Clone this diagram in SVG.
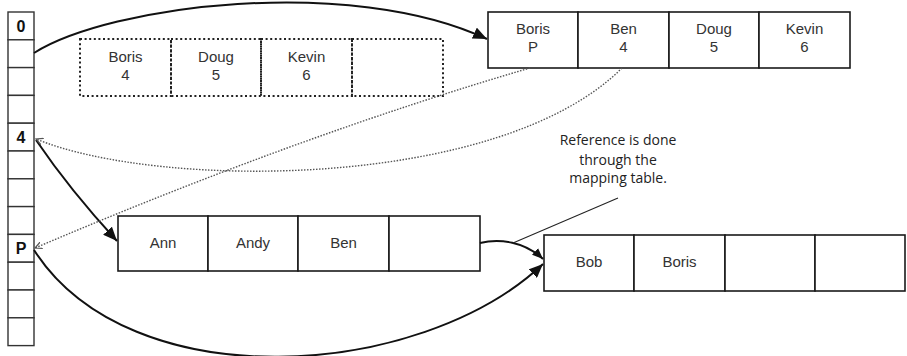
<svg xmlns="http://www.w3.org/2000/svg" width="907" height="356" viewBox="0 0 907 356">
<style>
.cell{fill:#fff;stroke:#1a1a1a;stroke-width:1.6}
.dcell{fill:none;stroke:#222;stroke-width:2;stroke-dasharray:2 2.6}
.col{fill:#fff;stroke:#333;stroke-width:1.4}
.t{font-family:"Liberation Sans",Arial,sans-serif;font-size:15px;fill:#333;text-anchor:middle}
.idx{font-family:"Liberation Sans",sans-serif;font-size:16px;font-weight:bold;fill:#111;text-anchor:middle}
.note{font-family:"Open Sans","Liberation Sans",sans-serif;font-size:14px;fill:#222;text-anchor:middle}
.solid{fill:none;stroke:#111;stroke-width:2}
.dot{fill:none;stroke:#555;stroke-width:1.4;stroke-dasharray:1.5 1.5}
</style>
<defs>
<marker id="ah" markerUnits="userSpaceOnUse" markerWidth="16" markerHeight="12" refX="14" refY="6" orient="auto">
<path d="M0,0 L14,6 L0,12 Z" fill="#111"/>
</marker>
<marker id="ahs" markerUnits="userSpaceOnUse" markerWidth="12" markerHeight="10" refX="11" refY="5" orient="auto">
<path d="M0,0.5 L11,5 L0,9.5 Z" fill="#111"/>
</marker>
<marker id="oh" markerUnits="userSpaceOnUse" markerWidth="8" markerHeight="8" refX="7" refY="4" orient="auto">
<path d="M0,0.5 L7,4 L0,7.5" fill="none" stroke="#555" stroke-width="1.2"/>
</marker>
</defs>

<g id="mapping-table">
<rect class="col" x="8" y="12" width="26" height="27.8"/>
<rect class="col" x="8" y="39.8" width="26" height="27.8"/>
<rect class="col" x="8" y="67.6" width="26" height="27.8"/>
<rect class="col" x="8" y="95.4" width="26" height="27.8"/>
<rect class="col" x="8" y="123.2" width="26" height="27.8"/>
<rect class="col" x="8" y="151" width="26" height="27.8"/>
<rect class="col" x="8" y="178.8" width="26" height="27.8"/>
<rect class="col" x="8" y="206.6" width="26" height="27.8"/>
<rect class="col" x="8" y="234.4" width="26" height="27.8"/>
<rect class="col" x="8" y="262.2" width="26" height="27.8"/>
<rect class="col" x="8" y="290" width="26" height="27.8"/>
<rect class="col" x="8" y="317.8" width="26" height="27.8"/>
<text class="idx" x="21" y="32">0</text>
<text class="idx" x="21" y="143">4</text>
<text class="idx" x="21" y="254">P</text>
</g>

<g id="old-page">
<rect class="dcell" x="80" y="39" width="91" height="57"/>
<rect class="dcell" x="171" y="39" width="90" height="57"/>
<rect class="dcell" x="261" y="39" width="91" height="57"/>
<rect class="dcell" x="352" y="39" width="91" height="57"/>
<text class="t" x="125.5" y="62">Boris</text>
<text class="t" x="125.5" y="80">4</text>
<text class="t" x="216" y="62">Doug</text>
<text class="t" x="216" y="80">5</text>
<text class="t" x="306.5" y="62">Kevin</text>
<text class="t" x="306.5" y="80">6</text>
</g>

<g id="new-page">
<rect class="cell" x="488" y="12" width="90" height="56"/>
<rect class="cell" x="578" y="12" width="91" height="56"/>
<rect class="cell" x="669" y="12" width="90" height="56"/>
<rect class="cell" x="759" y="12" width="91" height="56"/>
<text class="t" x="533" y="34">Boris</text>
<text class="t" x="533" y="52">P</text>
<text class="t" x="623.5" y="34">Ben</text>
<text class="t" x="623.5" y="52">4</text>
<text class="t" x="714" y="34">Doug</text>
<text class="t" x="714" y="52">5</text>
<text class="t" x="804.5" y="34">Kevin</text>
<text class="t" x="804.5" y="52">6</text>
</g>

<g id="page-ann">
<rect class="cell" x="118" y="216" width="90" height="55"/>
<rect class="cell" x="208" y="216" width="90" height="55"/>
<rect class="cell" x="298" y="216" width="91" height="55"/>
<rect class="cell" x="389" y="216" width="91" height="55"/>
<text class="t" x="163" y="248">Ann</text>
<text class="t" x="253" y="248">Andy</text>
<text class="t" x="343.5" y="248">Ben</text>
</g>

<g id="page-bob">
<rect class="cell" x="544" y="235" width="90" height="56"/>
<rect class="cell" x="634" y="235" width="91" height="56"/>
<rect class="cell" x="725" y="235" width="90" height="56"/>
<rect class="cell" x="815" y="235" width="90" height="56"/>
<text class="t" x="589" y="267">Bob</text>
<text class="t" x="679.5" y="267">Boris</text>
</g>

<g id="note">
<text class="note" x="618" y="145">Reference is done</text>
<text class="note" x="618" y="165">through the</text>
<text class="note" x="618" y="183">mapping table.</text>
</g>

<g id="connectors">
<path class="solid" d="M34,53 C110,5 350,-25 487,39" marker-end="url(#ah)"/>
<path class="solid" d="M36,140 Q70,190 117,241" marker-end="url(#ah)"/>
<path class="solid" d="M34,250 C130,400 420,380 543,264" marker-end="url(#ah)"/>
<path class="solid" stroke-width="1.4" d="M480,243 C500,238 525,242 543,259" marker-end="url(#ahs)"/>
<path fill="none" stroke="#222" stroke-width="1.1" d="M618,198 L513,243"/>
<path class="dot" d="M622,68 C500,190 160,190 36,139" marker-end="url(#oh)"/>
<path class="dot" d="M530,68 Q300,135 35,248" marker-end="url(#oh)"/>
</g>
</svg>
